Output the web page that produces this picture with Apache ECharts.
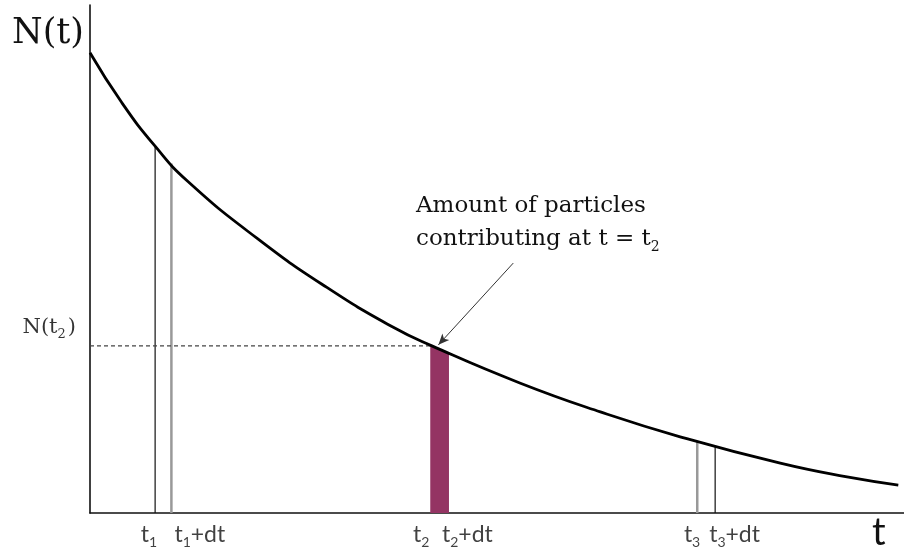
<!DOCTYPE html>
<html>
<head>
<meta charset="utf-8">
<script src="https://cdn.jsdelivr.net/npm/echarts@6/dist/echarts.min.js"></script>
<style>html,body{margin:0;padding:0;background:#fff}#c{width:904px;height:555px}</style>
</head>
<body>
<div id="c"></div>
<script>
// Decay curve
const curveT = [0, 0.39, 0.80, 1.20, 2.05, 2.91, 3.72, 4.20, 5.28, 6.27, 7.25, 8.48, 9.30, 9.93];
const curveN = [90.6, 80.8, 72.2, 65.3, 54.1, 44.4, 36.6, 32.9, 25.6, 19.9, 15.0, 9.8, 7.1, 5.5];

// Vertical markers (t, height) : t1, t1+dt, t3, t3+dt
const markT = [0.80, 1.00, 7.46, 7.68];
const markN = [72.2, 68.8, 14.1, 13.2];

// Shaded slice t2 .. t2+dt
const sliceT = [4.18, 4.41];
const sliceN = [32.9, 31.5];

// Tick labels
const tickT = [0.80, 1.00, 4.18, 4.41, 7.46, 7.68];
const tickLabels = ['t{s|1}', 't{s|1}+dt', 't{s|2}', 't{s|2}+dt', 't{s|3}', 't{s|3}+dt'];

// Annotation arrow (from, to)
const arrowFrom = [5.20, 49.2];
const arrowTo = [4.28, 33.1];

const markStyles = [
  {color: '#111', width: 1.2},
  {color: '#999', width: 2.5},
  {color: '#999', width: 2.5},
  {color: '#111', width: 1.2}
];
const tickAlign = ['right', 'left', 'right', 'left', 'right', 'left'];
const tickDx = [2, 3, -1, -7, 3, -6];

const chart = echarts.init(document.getElementById('c'), null, {renderer: 'canvas'});
const serif = '"DejaVu Serif", serif';
const sans = 'Lato, "Noto Sans", sans-serif';

const series = [];
series.push({
  type: 'line', data: [[sliceT[0], sliceN[0]], [sliceT[1], sliceN[1]]],
  symbol: 'none', lineStyle: {width: 0}, areaStyle: {color: '#943463', opacity: 1}, z: 2
});
markT.forEach((t, i) => {
  series.push({
    type: 'line', data: [[t, 0], [t, markN[i]]], symbol: 'none',
    lineStyle: {color: markStyles[i].color, width: markStyles[i].width}, z: 3
  });
});
series.push({
  type: 'line', data: [[0, sliceN[0]], [sliceT[0], sliceN[0]]], symbol: 'none',
  lineStyle: {color: '#444', width: 1.2, type: [4, 3]}, z: 3
});
series.push({
  type: 'line', data: curveT.map((t, i) => [t, curveN[i]]), smooth: 0.5,
  symbol: 'none', lineStyle: {color: '#000', width: 2.8}, z: 5,
  markLine: {
    silent: true, symbol: ['none', 'arrow'], symbolSize: [7, 11],
    lineStyle: {color: '#333', width: 1, type: 'solid'}, label: {show: false},
    data: [[{coord: arrowFrom}, {coord: arrowTo}]]
  }
});
series.push({
  type: 'scatter', symbolSize: 0, z: 6,
  data: tickT.map((t, i) => ({
    value: [t, 0],
    label: {show: true, position: 'bottom', distance: 7, align: tickAlign[i], offset: [tickDx[i], 0],
      formatter: tickLabels[i], color: '#111', fontFamily: sans, fontSize: 23,
      rich: {s: {fontSize: 14, fontFamily: sans, color: '#111', padding: [15, 0, 0, 0]}}}
  }))
});
series.push({
  type: 'scatter', symbolSize: 0, z: 6,
  data: [{value: [0, sliceN[0]], label: {show: true, position: 'left', distance: 14, offset: [0, -18],
    formatter: 'N(t{s|2})', color: '#000', fontFamily: serif, fontSize: 21,
    rich: {s: {fontSize: 13, fontFamily: serif, color: '#000', padding: [14, 2, 0, 0]}}}}]
});

chart.setOption({
  animation: false,
  grid: {left: 90, right: 0, top: 5, bottom: 42},
  xAxis: {type: 'value', min: 0, max: 10, axisLine: {lineStyle: {color: '#111', width: 1.6}},
    axisTick: {show: false}, axisLabel: {show: false}, splitLine: {show: false}},
  yAxis: {type: 'value', min: 0, max: 100, axisLine: {show: true, lineStyle: {color: '#111', width: 1.6}},
    axisTick: {show: false}, axisLabel: {show: false}, splitLine: {show: false}},
  series: series,
  graphic: [
    {type: 'text', left: 12, top: 16, style: {text: 'N(t)', font: '35px ' + serif, fill: '#111'}},
    {type: 'text', left: 872, top: 514, style: {text: 't', font: '38px ' + sans, fill: '#111'}},
    {type: 'text', left: 416, top: 190, style: {
      text: 'Amount of particles\ncontributing at t = t{s|2}', font: '23px ' + serif, fill: '#111', lineHeight: 33,
      rich: {s: {fontSize: 14, fontFamily: serif, fill: '#111', padding: [16, 0, 0, 0]}}}}
  ]
});
</script>
</body>
</html>
